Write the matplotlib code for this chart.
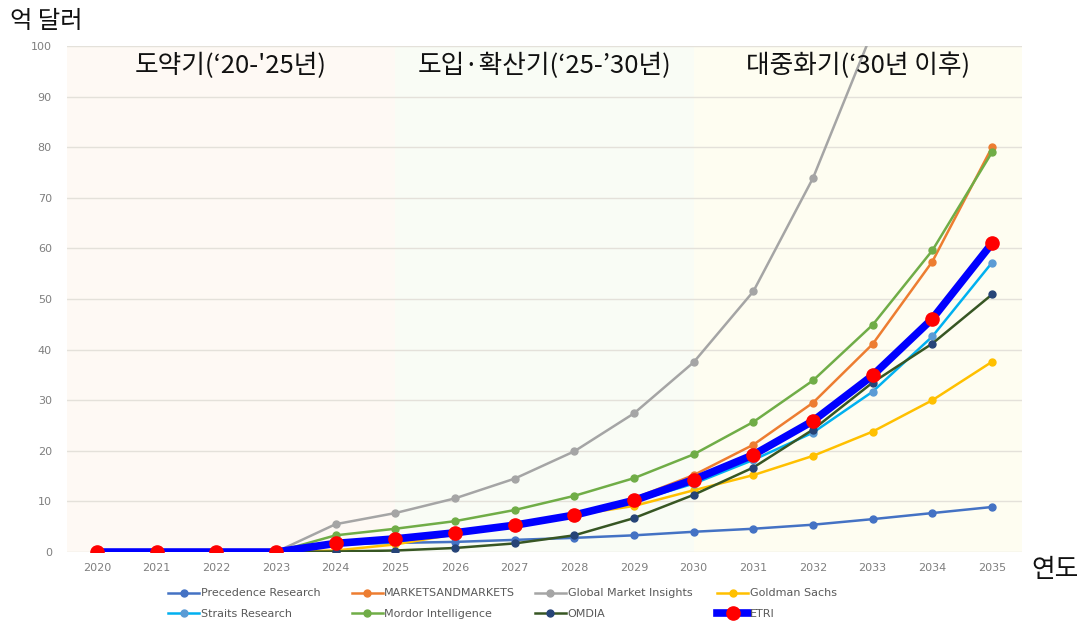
import matplotlib
matplotlib.use('Agg')
import matplotlib.pyplot as plt

# Fonts: Korean text needs a CJK family
plt.rcParams['font.family'] = ['Noto Sans CJK KR', 'DejaVu Sans']

# Data (억 달러)
years = list(range(2020, 2036))
precedence = [0, 0, 0, 0, 1.5, 1.8, 2.0, 2.4, 2.8, 3.3, 4.0, 4.6, 5.4, 6.5, 7.7, 8.9]
marketsandmarkets = [0, 0, 0, 0, 1.5, 2.5, 3.8, 5.4, 7.5, 10.6, 15.2, 21.2, 29.5, 41.1, 57.4, 80.0]
global_mi = [0, 0, 0, 0, 5.5, 7.7, 10.6, 14.5, 19.9, 27.4, 37.5, 51.5, 73.9, 103.0, 140.0, 190.0]
goldman = [0, 0, 0, 0, 0.3, 1.5, 3.5, 5.3, 7.3, 9.1, 12.2, 15.2, 19.0, 23.8, 30.0, 37.6]
straits = [0, 0, 0, 0, 1.5, 2.0, 3.8, 5.2, 7.2, 10.0, 13.5, 18.2, 23.6, 31.7, 42.6, 57.2]
mordor = [0, 0, 0, 0, 3.3, 4.6, 6.1, 8.3, 11.1, 14.6, 19.3, 25.7, 33.9, 44.9, 59.6, 79.0]
omdia = [0, 0, 0, 0, 0.1, 0.3, 0.8, 1.7, 3.3, 6.7, 11.3, 16.7, 24.2, 33.5, 41.2, 50.9]
etri = [0, 0, 0, 0, 1.7, 2.6, 3.8, 5.3, 7.3, 10.2, 14.3, 19.2, 25.9, 34.9, 46.1, 61.0]

# label, values, line color, marker color
series = [
    ('Precedence Research', precedence, '#4472C4', '#4472C4'),
    ('MARKETSANDMARKETS', marketsandmarkets, '#ED7D31', '#ED7D31'),
    ('Global Market Insights', global_mi, '#A5A5A5', '#A5A5A5'),
    ('Goldman Sachs', goldman, '#FFC000', '#FFC000'),
    ('Straits Research', straits, '#00B0F0', '#5B9BD5'),
    ('Mordor Intelligence', mordor, '#70AD47', '#70AD47'),
    ('OMDIA', omdia, '#375623', '#264478'),
]

periods = [(2019.5, 2025, '#FEF9F4'), (2025, 2030, '#F9FCF5'), (2030, 2035.5, '#FEFDF1')]
period_labels = [(2022.25, '도약기(‘20-\'25년)'), (2027.5, '도입·확산기(‘25-’30년)'), (2032.75, '대중화기(‘30년 이후)')]

fig = plt.figure(figsize=(10.85, 6.22), dpi=100, facecolor='w')
ax = fig.add_axes([0.0618, 0.1125, 0.880, 0.8135])

for x0, x1, c in periods:
    ax.axvspan(x0, x1, color=c, lw=0, zorder=0)

ax.set_xlim(2019.5, 2035.5)
ax.set_ylim(0, 100)
ax.set_yticks(range(0, 101, 10))
ax.set_xticks(years)
ax.yaxis.grid(True, color='#E4E1DA', lw=1.0, zorder=1)
ax.set_axisbelow(True)
for s in ax.spines.values():
    s.set_visible(False)
ax.tick_params(length=0, labelsize=8, colors='#7F7F7F', pad=8, labelfontfamily='DejaVu Sans')
ax.tick_params(axis='y', pad=11)

handles = []
for label, vals, lc, mc in series:
    h, = ax.plot(years, vals, color=lc, lw=1.8, marker='o', ms=5, mfc=mc, mec=mc,
                 label=label, zorder=3)
    handles.append(h)
h, = ax.plot(years, etri, color='#0000FF', lw=5.5, marker='o', ms=9.5, mfc='#FF0000',
             mec='#FF0000', label='ETRI', zorder=5)
handles.append(h)

for x, t in period_labels:
    ax.text(x, 96.0, t, ha='center', va='center', fontsize=18.5, color='#111111')

fig.text(0.009, 0.966, '억 달러', fontsize=17.5, ha='left', va='center', color='#111111')
fig.text(0.951, 0.083, '연도', fontsize=18.5, ha='left', va='center', color='#111111')

# legend: 4 columns, 2 rows, filled row-wise
col_x = [0.155, 0.324, 0.493, 0.661]
for i, x in enumerate(col_x):
    pair = [handles[i], handles[i + 4]]
    fig.legend(pair, [p.get_label() for p in pair], loc='upper left',
               bbox_to_anchor=(x, 0.054), frameon=False, borderpad=0, borderaxespad=0,
               prop={'family': 'DejaVu Sans', 'size': 8}, labelcolor='#595959',
               handlelength=2.8, handletextpad=0.15, labelspacing=0.95)

fig.savefig('out.png', dpi=100, facecolor='w')
